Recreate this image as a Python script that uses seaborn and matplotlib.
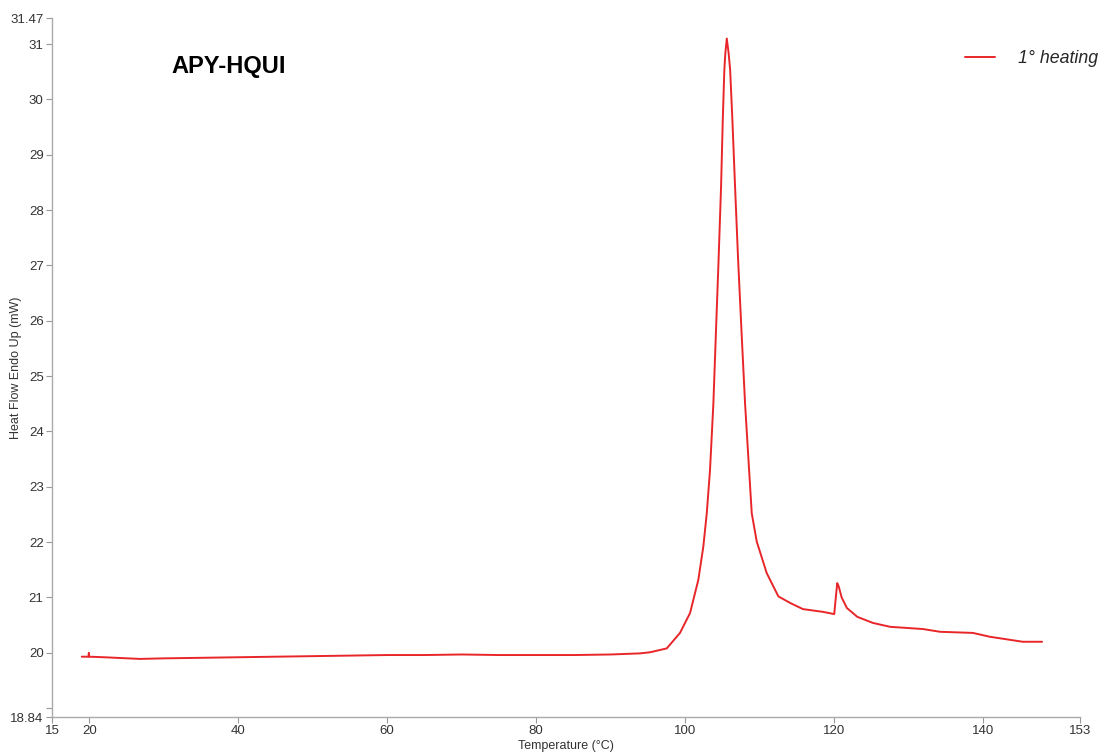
import matplotlib
matplotlib.use("Agg")
import matplotlib.pyplot as plt
import seaborn as sns
import pandas as pd

temperature = [19.0, 19.9, 19.95, 20.0, 22.0, 26.8, 30.0, 35.0, 40.0, 45.0, 50.0, 55.0, 60.0,
               65.0, 70.0, 75.0, 80.0, 85.0, 90.0, 93.94, 95.28, 97.52, 99.3, 100.65, 101.76,
               102.43, 102.89, 103.33, 103.78, 104.1, 104.45, 104.81, 105.04, 105.25,
               105.38, 105.58, 105.83, 106.03, 106.33, 106.69, 107.1, 107.59, 108.03,
               108.57, 108.93, 109.6, 110.94, 112.5, 114.1, 115.8, 118.5, 120.0, 120.4,
               120.6, 121.0, 121.7, 123.1, 125.2, 127.5, 131.9, 134.2, 138.6, 140.9, 145.3, 147.9]
heat_flow = [19.93, 19.93, 20.0, 19.93, 19.92, 19.89, 19.9, 19.91, 19.92, 19.93, 19.94, 19.95, 19.96,
             19.96, 19.97, 19.96, 19.96, 19.96, 19.97, 19.99, 20.01, 20.08, 20.36, 20.72, 21.32,
             21.92, 22.52, 23.31, 24.51, 25.71, 27.0, 28.42, 29.63, 30.53,
             30.83, 31.10, 30.83, 30.53, 29.63, 28.42, 27.1, 25.71, 24.51,
             23.31, 22.52, 22.01, 21.44, 21.02, 20.9, 20.79, 20.74, 20.70, 21.26,
             21.2, 21.0, 20.81, 20.65, 20.54, 20.47, 20.43, 20.38, 20.36, 20.29, 20.2, 20.2]
series_label = "1° heating"
x_ticks = [15, 20, 40, 60, 80, 100, 120, 140, 153]
y_ticks = [18.84, 19, 20, 21, 22, 23, 24, 25, 26, 27, 28, 29, 30, 31, 31.47]
y_tick_labels = ["18.84", "", "20", "21", "22", "23", "24", "25", "26", "27", "28", "29", "30", "31", "31.47"]

df = pd.DataFrame({"Temperature": temperature, "HeatFlow": heat_flow})

sns.set_theme(style="white")
plt.rcParams['font.family'] = ['Liberation Sans', 'DejaVu Sans']

fig = plt.figure(figsize=(11.01, 7.55), dpi=100)
ax = fig.add_axes([0.0472, 0.0503, 0.9338, 0.9258])

sns.lineplot(data=df, x="Temperature", y="HeatFlow", sort=False, color="#e8262a",
             linewidth=1.4, ax=ax, label=series_label, estimator=None)

ax.set_xlim(15, 153)
ax.set_ylim(18.84, 31.47)
ax.set_xticks(x_ticks)
ax.set_xticklabels([str(t) for t in x_ticks])
ax.set_yticks(y_ticks)
ax.set_yticklabels(y_tick_labels)
ax.tick_params(axis="both", which="both", direction="out", length=4, width=0.8,
               color="#999999", labelsize=9.5, labelcolor="#333333", bottom=True, left=True, pad=2)

for side in ["top", "right"]:
    ax.spines[side].set_visible(False)
for side in ["left", "bottom"]:
    ax.spines[side].set_color("#aaaaaa")
    ax.spines[side].set_linewidth(1.0)

ax.set_xlabel("Temperature (°C)", fontsize=9, color="#333333", labelpad=2)
ax.set_ylabel("Heat Flow Endo Up (mW)", fontsize=9, color="#333333")
ax.yaxis.set_label_coords(-0.029, 0.5)

ax.text(0.116, 0.931, "APY-HQUI", transform=ax.transAxes, fontsize=17, fontweight="bold",
        color="black", ha="left", va="center")

leg = ax.legend(loc="upper right", bbox_to_anchor=(1098 / 1101, (755 - 50) / 755),
                bbox_transform=fig.transFigure, frameon=False, borderaxespad=0, borderpad=0,
                prop={"style": "italic", "size": 12.8}, handlelength=1.7, handletextpad=1.3)

fig.savefig("out.png", dpi=100, facecolor="white")
